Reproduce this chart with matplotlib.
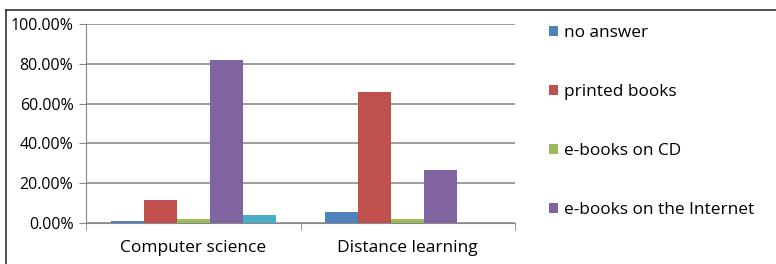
import matplotlib.pyplot as plt
from matplotlib.lines import Line2D
import numpy as np

categories = ['Computer science', 'Distance learning']
series = ['no answer', 'printed books', 'e-books on CD', 'e-books on the Internet', '']
values = [
    [1.0, 5.5],     # no answer
    [11.6, 65.8],   # printed books
    [2.0, 2.2],     # e-books on CD
    [81.9, 26.6],   # e-books on the Internet
    [3.9, 0.0],     # unlabeled fifth series
]
colors = ['#4F81BD', '#C0504D', '#9BBB59', '#8064A2', '#4BACC6']
yticks = [0, 20, 40, 60, 80, 100]

plt.rcParams['font.family'] = ['Open Sans', 'DejaVu Sans']

fig = plt.figure(figsize=(7.76, 2.64), dpi=100)
ax = fig.add_axes([86 / 776, 1 - 223 / 264, (515 - 86) / 776, (223 - 24) / 264])

x = np.arange(len(categories))
n = len(series)
w = 0.154
handles = []
for i, (name, vals, c) in enumerate(zip(series, values, colors)):
    bars = ax.bar(x + (i - (n - 1) / 2) * w, vals, w, color=c, zorder=3)
    if name:
        handles.append((bars, name))

ax.set_xlim(-0.5, 1.5)
ax.set_ylim(0, 100)
ax.set_yticks(yticks)
ax.set_yticklabels(['%.2f%%' % v for v in yticks], fontsize=11.5)
ax.set_xticks(x)
ax.set_xticklabels(categories, fontsize=12.5)
ax.set_xticks([-0.5, 0.5, 1.5], minor=True)
ax.tick_params(axis='x', which='major', length=0, pad=12)
ax.tick_params(axis='x', which='minor', length=5, color='#888888')
ax.tick_params(axis='y', length=5, color='#888888', pad=4)
ax.grid(axis='y', color='#8c8c8c', linewidth=1.2, zorder=0)
for s in ['top', 'right']:
    ax.spines[s].set_visible(False)
ax.spines['left'].set_color('#888888')
ax.spines['bottom'].set_color('#888888')

leg = fig.legend([h for h, _ in handles], [t for _, t in handles],
                 loc='upper left', bbox_to_anchor=(542 / 776, 1 - 18 / 264),
                 frameon=False, fontsize=12.4, handlelength=0.55, handleheight=0.55,
                 handletextpad=0.3, labelspacing=2.5, borderaxespad=0)

# outer frame (top and left edges)
fig.add_artist(Line2D([6 / 776, 1], [1 - 10 / 264, 1 - 10 / 264], color='#333333', lw=1.2))
fig.add_artist(Line2D([6 / 776, 6 / 776], [0, 1 - 10 / 264], color='#333333', lw=1.2))

fig.savefig('out.png', dpi=100)
